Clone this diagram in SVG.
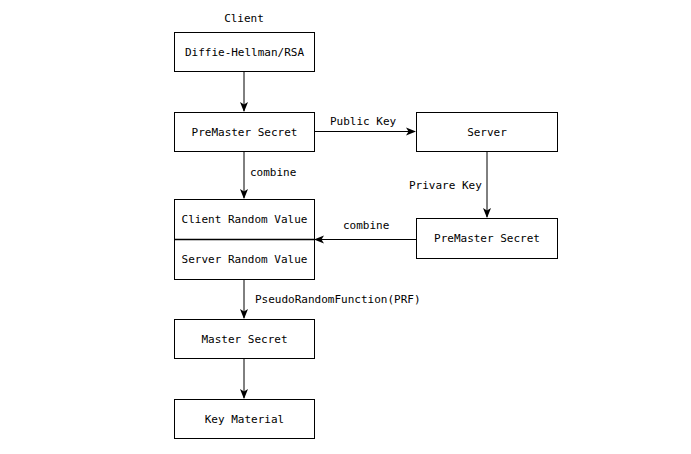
<svg xmlns="http://www.w3.org/2000/svg" width="691" height="454" viewBox="0 0 691 454">
  <style>
    .box { fill: #ffffff; stroke: #000000; stroke-width: 1; }
    .edge { fill: none; stroke: #000000; stroke-width: 1; }
    text { font-family: "DejaVu Sans Mono", "Liberation Mono", monospace; font-size: 11px; fill: #000000; }
    .c { text-anchor: middle; dominant-baseline: central; }
  </style>
  <defs>
    <marker id="arrow" viewBox="0 0 10 10" refX="9" refY="5" markerWidth="10" markerHeight="10" markerUnits="userSpaceOnUse" orient="auto">
      <path d="M0,1 L10,5 L0,9 L2.5,5 Z" fill="#000000"/>
    </marker>
  </defs>
  <rect width="691" height="454" fill="#ffffff"/>

  <text x="244" y="18" class="c">Client</text>

  <g id="connectors">
    <path class="edge" d="M244,71.5 V111" marker-end="url(#arrow)"/>
    <path class="edge" d="M314.5,131.5 H415" marker-end="url(#arrow)"/>
    <path class="edge" d="M244,151.5 V198" marker-end="url(#arrow)"/>
    <path class="edge" d="M487,151.5 V217" marker-end="url(#arrow)"/>
    <path class="edge" d="M416,239.5 H315" marker-end="url(#arrow)"/>
    <path class="edge" d="M244,279.5 V318" marker-end="url(#arrow)"/>
    <path class="edge" d="M244,358.5 V398" marker-end="url(#arrow)"/>
    <text x="330" y="121" dominant-baseline="central">Public Key</text>
    <text x="250" y="172" dominant-baseline="central">combine</text>
    <text x="409" y="185" dominant-baseline="central">Privare Key</text>
    <text x="343" y="225" dominant-baseline="central">combine</text>
    <text x="255" y="299" dominant-baseline="central">PseudoRandomFunction(PRF)</text>
  </g>

  <g id="dh">
    <rect class="box" x="174.5" y="32.5" width="140" height="39"/>
    <text x="244.5" y="52" class="c">Diffie-Hellman/RSA</text>
  </g>
  <g id="premaster-client">
    <rect class="box" x="174.5" y="112.5" width="140" height="39"/>
    <text x="244.5" y="132" class="c">PreMaster Secret</text>
  </g>
  <g id="server">
    <rect class="box" x="416.5" y="112.5" width="141" height="39"/>
    <text x="487" y="132" class="c">Server</text>
  </g>
  <g id="premaster-server">
    <rect class="box" x="416.5" y="218.5" width="141" height="40"/>
    <text x="487" y="238.5" class="c">PreMaster Secret</text>
  </g>
  <g id="random-values">
    <rect class="box" x="174.5" y="199.5" width="140" height="80"/>
    <line x1="174.5" y1="239.5" x2="314.5" y2="239.5" stroke="#000000" stroke-width="1.5"/>
    <text x="244.5" y="219" class="c">Client Random Value</text>
    <text x="244.5" y="259" class="c">Server Random Value</text>
  </g>
  <g id="master-secret">
    <rect class="box" x="174.5" y="319.5" width="140" height="39"/>
    <text x="244.5" y="339" class="c">Master Secret</text>
  </g>
  <g id="key-material">
    <rect class="box" x="174.5" y="399.5" width="140" height="39"/>
    <text x="244.5" y="419" class="c">Key Material</text>
  </g>
</svg>
